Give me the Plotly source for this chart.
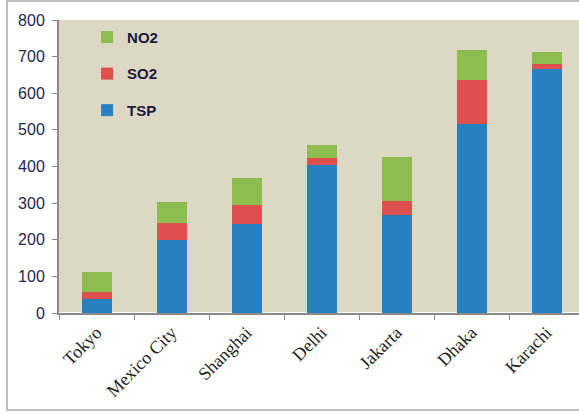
import plotly.graph_objects as go

cities = ["Tokyo", "Mexico City", "Shanghai", "Delhi", "Jakarta", "Dhaka", "Karachi"]
tsp = [38, 198, 244, 403, 268, 515, 666]
so2 = [18, 48, 52, 19, 37, 121, 13]
no2 = [56, 57, 73, 36, 122, 83, 33]

fig = go.Figure()
for name, vals, col, rank in [("TSP", tsp, "#2781C1", 3), ("SO2", so2, "#DD504E", 2), ("NO2", no2, "#8DBC4F", 1)]:
    fig.add_trace(go.Bar(x=cities, y=vals, name=name, marker_color=col,
                         marker_line_width=0, width=0.4, legendgroup=name, legendrank=rank))

fig.update_layout(
    barmode="stack",
    width=579, height=414,
    margin=dict(l=59, r=0, t=20, b=101),
    paper_bgcolor="white",
    plot_bgcolor="#DDD8C3",
    showlegend=True,
    legend=dict(x=0.054, y=0.997, xanchor="left", yanchor="top",
                traceorder="grouped", tracegroupgap=14,
                bgcolor="rgba(0,0,0,0)", itemwidth=30,
                font=dict(family="Liberation Sans", size=15, color="#1A1A3A", weight="bold")),
)
fig.update_yaxes(range=[0, 800], dtick=100, showgrid=False,
                 showline=True, linecolor="#8A8A8A", linewidth=2,
                 ticks="outside", ticklen=5, tickcolor="#8A8A8A",
                 ticklabelstandoff=4,
                 tickfont=dict(family="Liberation Sans", size=16, color="#1F2550"))
fig.update_xaxes(range=[-0.5, 6.433], showgrid=False, tickangle=-45,
                 showline=True, linecolor="#8A8A8A", linewidth=2,
                 ticks="outside", ticklen=5, tickcolor="#8A8A8A", tickson="boundaries",
                 tickfont=dict(family="Liberation Serif", size=18, color="#222222"))

# chart border
fig.add_shape(type="rect", xref="paper", yref="paper",
              x0=-0.1, x1=1.05, y0=-0.331, y1=1.065,
              line=dict(color="#A8A8A8", width=1.5), layer="below")

# drop the default page margin so the figure sits at the window corner
fig.write_html("out.html", config={"displayModeBar": False},
               post_script="document.body.style.margin='0px';")
